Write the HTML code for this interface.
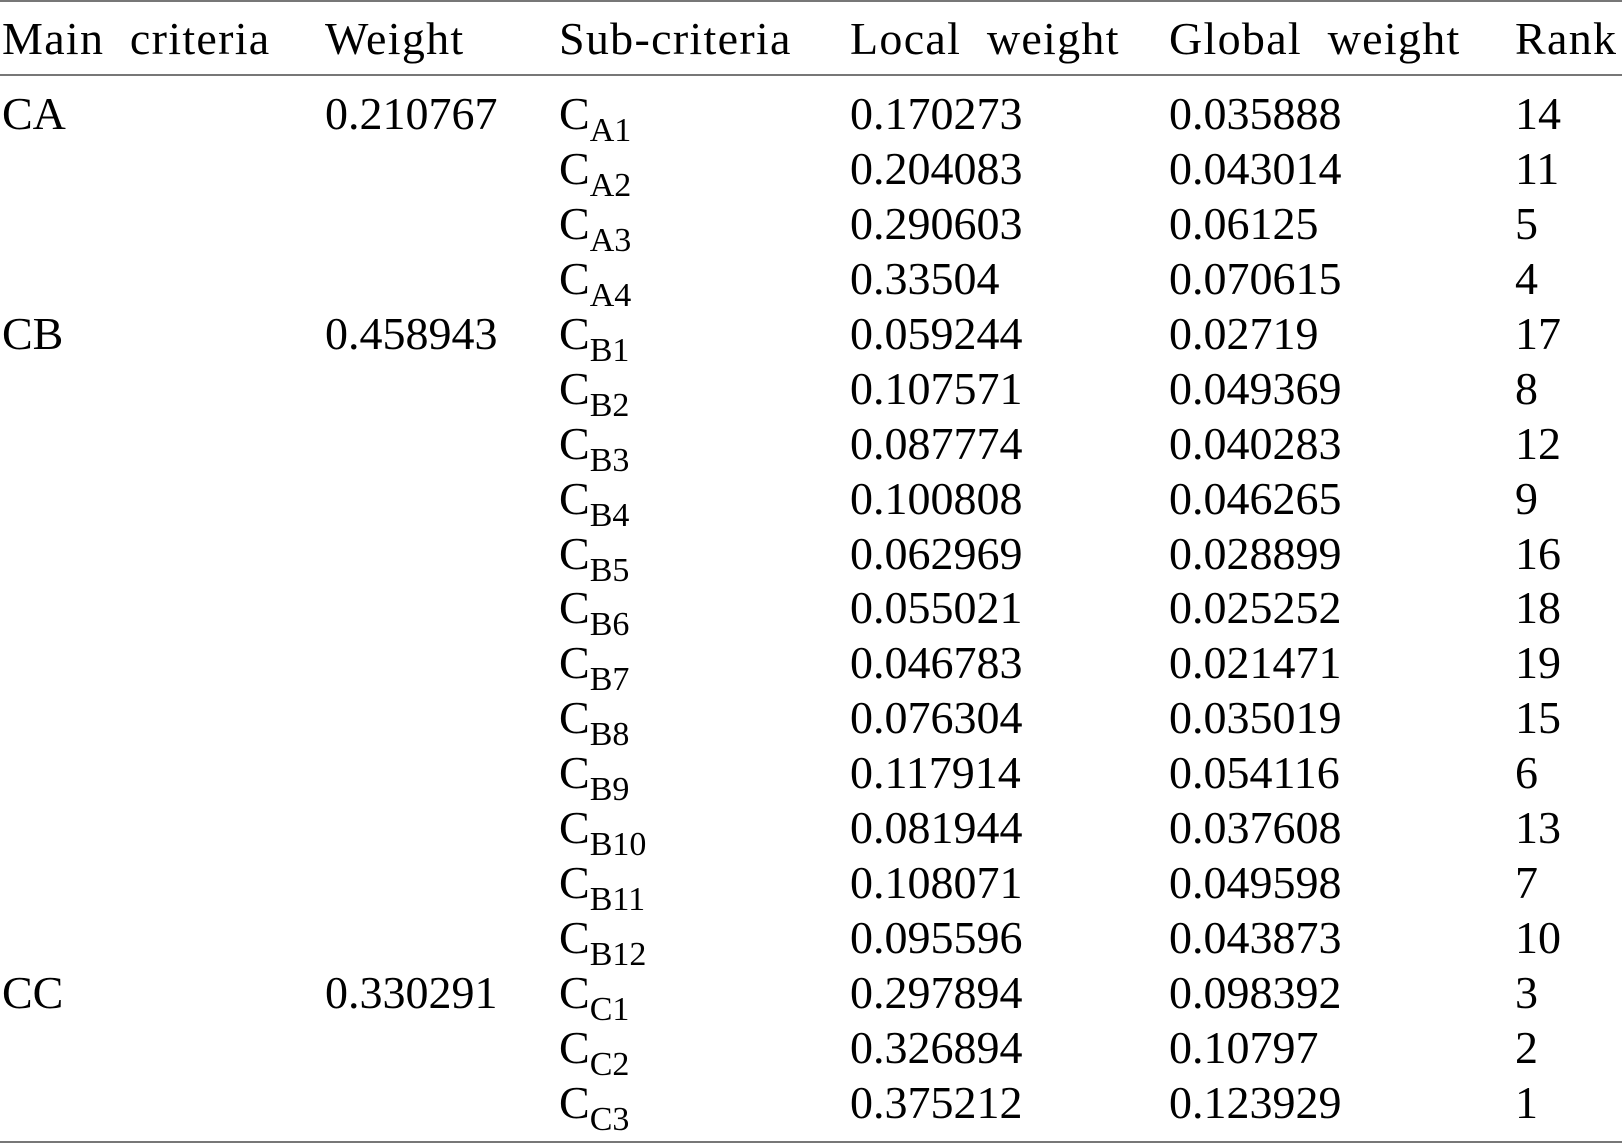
<!DOCTYPE html>
<html><head><meta charset="utf-8"><style>
body{margin:0;width:1622px;height:1144px;background:#fff;overflow:hidden;position:relative;font-family:"Liberation Serif",serif;font-size:46px;color:#000}
.r{position:absolute;left:0;width:1622px;height:56px;line-height:56px;white-space:nowrap}
.r span{position:absolute;top:0}
.hd span{letter-spacing:1.3px}
.c1{left:2px}.c2{left:325px}.c3{left:559px}.c4{left:850px}.c5{left:1169px}.c6{left:1515px}
sub{font-size:34px;vertical-align:-12px;line-height:0}
.h{position:absolute;left:0;width:1622px;height:2px;background:#777}
</style></head><body>
<div class="h" style="top:0"></div>
<div class="h" style="top:74px"></div>
<div class="h" style="top:1141px"></div>
<div class="r hd" style="top:11px"><span class="c1">Main&nbsp; criteria</span><span class="c2">Weight</span><span class="c3">Sub-criteria</span><span class="c4">Local&nbsp; weight</span><span class="c5">Global&nbsp; weight</span><span class="c6">Rank</span></div>
<div class="r" style="top:86px"><span class="c1">CA</span><span class="c2">0.210767</span><span class="c3">C<sub>A1</sub></span><span class="c4">0.170273</span><span class="c5">0.035888</span><span class="c6">14</span></div>
<div class="r" style="top:141px"><span class="c3">C<sub>A2</sub></span><span class="c4">0.204083</span><span class="c5">0.043014</span><span class="c6">11</span></div>
<div class="r" style="top:196px"><span class="c3">C<sub>A3</sub></span><span class="c4">0.290603</span><span class="c5">0.06125</span><span class="c6">5</span></div>
<div class="r" style="top:251px"><span class="c3">C<sub>A4</sub></span><span class="c4">0.33504</span><span class="c5">0.070615</span><span class="c6">4</span></div>
<div class="r" style="top:306px"><span class="c1">CB</span><span class="c2">0.458943</span><span class="c3">C<sub>B1</sub></span><span class="c4">0.059244</span><span class="c5">0.02719</span><span class="c6">17</span></div>
<div class="r" style="top:361px"><span class="c3">C<sub>B2</sub></span><span class="c4">0.107571</span><span class="c5">0.049369</span><span class="c6">8</span></div>
<div class="r" style="top:416px"><span class="c3">C<sub>B3</sub></span><span class="c4">0.087774</span><span class="c5">0.040283</span><span class="c6">12</span></div>
<div class="r" style="top:471px"><span class="c3">C<sub>B4</sub></span><span class="c4">0.100808</span><span class="c5">0.046265</span><span class="c6">9</span></div>
<div class="r" style="top:526px"><span class="c3">C<sub>B5</sub></span><span class="c4">0.062969</span><span class="c5">0.028899</span><span class="c6">16</span></div>
<div class="r" style="top:580px"><span class="c3">C<sub>B6</sub></span><span class="c4">0.055021</span><span class="c5">0.025252</span><span class="c6">18</span></div>
<div class="r" style="top:635px"><span class="c3">C<sub>B7</sub></span><span class="c4">0.046783</span><span class="c5">0.021471</span><span class="c6">19</span></div>
<div class="r" style="top:690px"><span class="c3">C<sub>B8</sub></span><span class="c4">0.076304</span><span class="c5">0.035019</span><span class="c6">15</span></div>
<div class="r" style="top:745px"><span class="c3">C<sub>B9</sub></span><span class="c4">0.117914</span><span class="c5">0.054116</span><span class="c6">6</span></div>
<div class="r" style="top:800px"><span class="c3">C<sub>B10</sub></span><span class="c4">0.081944</span><span class="c5">0.037608</span><span class="c6">13</span></div>
<div class="r" style="top:855px"><span class="c3">C<sub>B11</sub></span><span class="c4">0.108071</span><span class="c5">0.049598</span><span class="c6">7</span></div>
<div class="r" style="top:910px"><span class="c3">C<sub>B12</sub></span><span class="c4">0.095596</span><span class="c5">0.043873</span><span class="c6">10</span></div>
<div class="r" style="top:965px"><span class="c1">CC</span><span class="c2">0.330291</span><span class="c3">C<sub>C1</sub></span><span class="c4">0.297894</span><span class="c5">0.098392</span><span class="c6">3</span></div>
<div class="r" style="top:1020px"><span class="c3">C<sub>C2</sub></span><span class="c4">0.326894</span><span class="c5">0.10797</span><span class="c6">2</span></div>
<div class="r" style="top:1075px"><span class="c3">C<sub>C3</sub></span><span class="c4">0.375212</span><span class="c5">0.123929</span><span class="c6">1</span></div>
</body></html>
